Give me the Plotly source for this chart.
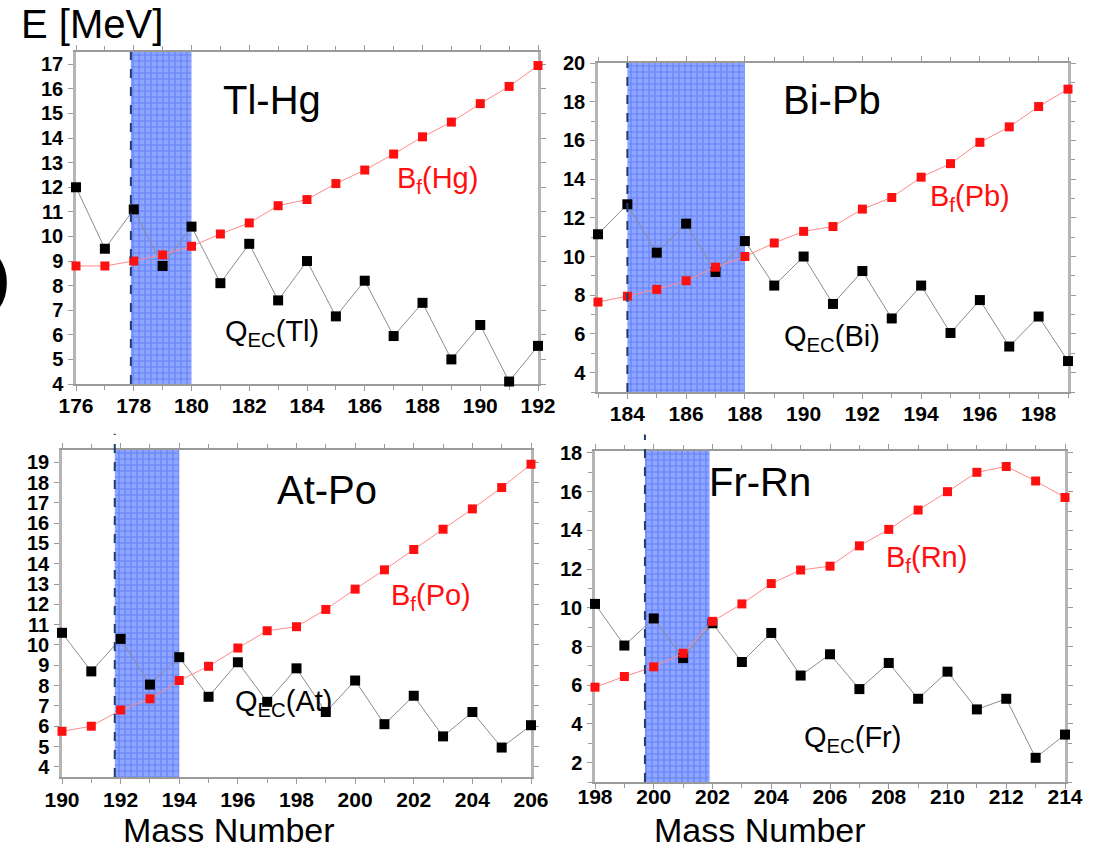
import plotly.graph_objects as go

W, H = 1094, 851

# ---------------- data ----------------
mass_tl = list(range(176, 193))
qec_tl = [12.0, 9.5, 11.1, 8.8, 10.4, 8.1, 9.7, 7.4, 9.0, 6.75, 8.2, 5.95, 7.3, 5.0, 6.4, 4.1, 5.55]
bf_hg = [8.8, 8.8, 9.0, 9.25, 9.6, 10.1, 10.55, 11.25, 11.5, 12.15, 12.7, 13.35, 14.05, 14.65, 15.4, 16.1, 16.95]

mass_bi = list(range(183, 200))
qec_bi = [11.15, 12.7, 10.2, 11.7, 9.2, 10.8, 8.5, 10.0, 7.55, 9.25, 6.8, 8.5, 6.05, 7.75, 5.35, 6.9, 4.6]
bf_pb = [7.65, 7.95, 8.3, 8.75, 9.45, 10.0, 10.7, 11.3, 11.55, 12.45, 13.05, 14.1, 14.8, 15.9, 16.7, 17.75, 18.65]

mass_at = list(range(190, 207))
qec_at = [10.6, 8.7, 10.3, 8.05, 9.4, 7.45, 9.15, 7.2, 8.85, 6.7, 8.25, 6.1, 7.5, 5.5, 6.7, 4.95, 6.05]
bf_po = [5.75, 6.0, 6.8, 7.35, 8.25, 8.95, 9.85, 10.7, 10.9, 11.75, 12.75, 13.7, 14.7, 15.7, 16.7, 17.75, 18.9]

mass_fr = list(range(198, 215))
qec_fr = [10.2, 8.05, 9.45, 7.4, 9.2, 7.2, 8.7, 6.5, 7.6, 5.8, 7.15, 5.3, 6.7, 4.75, 5.3, 2.25, 3.45]
bf_rn = [5.9, 6.45, 6.95, 7.65, 9.3, 10.2, 11.25, 11.95, 12.15, 13.2, 14.05, 15.05, 16.0, 17.0, 17.3, 16.55, 15.7]

panel_names = ["Tl-Hg", "Bi-Pb", "At-Po", "Fr-Rn"]
qec_labels = ["Q<sub>EC</sub>(Tl)", "Q<sub>EC</sub>(Bi)", "Q<sub>EC</sub>(At)", "Q<sub>EC</sub>(Fr)"]
bf_labels = ["B<sub>f</sub>(Hg)", "B<sub>f</sub>(Pb)", "B<sub>f</sub>(Po)", "B<sub>f</sub>(Rn)"]
band_ranges = [(177.9, 180.0), (184.0, 188.0), (191.8, 194.0), (199.7, 201.9)]
x_ranges = [(176, 192), (183, 199), (190, 206), (198, 214)]
y_ranges = [(4, 17.5), (3, 20), (3.5, 19.6), (1, 18.1)]
y_tick0 = [4, 4, 4, 2]
y_dticks = [1, 2, 1, 2]

series = [
    (mass_tl, qec_tl, bf_hg),
    (mass_bi, qec_bi, bf_pb),
    (mass_at, qec_at, bf_po),
    (mass_fr, qec_fr, bf_rn),
]

# ---------------- layout geometry (pixels) ----------------
px_boxes = [  # (left, right, top, bottom)
    (76, 538, 52, 384),
    (598, 1068, 63, 392),
    (62, 531, 450, 777),
    (595, 1065, 451, 782),
]
x_label_standoff = [-3, -3, -2, -10]


def fx(p):
    return p / W


def fy(p):
    return 1 - p / H


fig = go.Figure()
xtickfont = dict(family="Liberation Sans, Arial", size=21, color="black", weight="bold")
ytickfont = dict(family="Liberation Sans, Arial", size=20, color="black", weight="bold")
frame = "#9a9a9a"

layout_axes = {}
for i in range(4):
    xa = "x" if i == 0 else f"x{i+1}"
    ya = "y" if i == 0 else f"y{i+1}"
    xkey = "xaxis" if i == 0 else f"xaxis{i+1}"
    ykey = "yaxis" if i == 0 else f"yaxis{i+1}"
    l, r, t, b = px_boxes[i]
    x0, x1 = x_ranges[i]
    y0, y1 = y_ranges[i]
    layout_axes[xkey] = dict(
        domain=[fx(l), fx(r)], range=[x0, x1], anchor=ya, automargin=False,
        tick0=x0 + (x0 % 2), dtick=2, ticks="outside", ticklen=5, tickcolor=frame,
        minor=dict(dtick=1, ticks="outside", ticklen=4, tickcolor=frame),
        showline=True, linecolor=frame, linewidth=1.5, mirror="ticks",
        showgrid=False, zeroline=False, tickfont=xtickfont, layer="below traces",
        ticklabelstandoff=x_label_standoff[i],
    )
    ydict = dict(
        domain=[fy(b), fy(t)], range=[y0, y1], anchor=xa, automargin=False,
        tick0=y_tick0[i], dtick=y_dticks[i], ticks="outside", ticklen=5, tickcolor=frame,
        showline=True, linecolor="#b5b5b5", linewidth=2.5, mirror="ticks",
        showgrid=False, zeroline=False, tickfont=ytickfont, layer="below traces",
        ticklabelstandoff=1,
    )
    if y_dticks[i] == 2:
        ydict["minor"] = dict(dtick=1, ticks="outside", ticklen=4, tickcolor=frame)
    layout_axes[ykey] = ydict

    # highlighted band (hatched grid)
    bx0, bx1 = band_ranges[i]
    fig.add_trace(go.Scatter(
        x=[bx0, bx1, bx1, bx0, bx0], y=[y0, y0, y1, y1, y0],
        xaxis=xa, yaxis=ya, mode="none", fill="toself",
        fillcolor="#8fa7ff",
        fillpattern=dict(shape="+", bgcolor="#8ea6ff", fgcolor="#3a5cf2", size=6, solidity=0.35),
        hoverinfo="skip", showlegend=False,
    ))

    mass, qec, bf = series[i]
    fig.add_trace(go.Scatter(
        x=mass, y=qec, xaxis=xa, yaxis=ya, mode="lines+markers",
        line=dict(color="#8c8c8c", width=1),
        marker=dict(symbol="square", size=10, color="black"),
        showlegend=False, cliponaxis=False,
    ))
    fig.add_trace(go.Scatter(
        x=mass, y=bf, xaxis=xa, yaxis=ya, mode="lines+markers",
        line=dict(color="#ff8a8a", width=1),
        marker=dict(symbol="square", size=9, color="#ff1010"),
        showlegend=False, cliponaxis=False,
    ))

    # dashed line at the band's left edge
    fig.add_shape(type="line", xref=xa, yref=f"{ya} domain",
                  x0=bx0, x1=bx0, y0=0, y1=1.0 if i < 2 else 1.05,
                  line=dict(color="#1f3d6e", width=2, dash="dash"))

fig.update_layout(**layout_axes)

# ---------------- text ----------------
ann = []


def add_text(text, cx, cy, size, color="black", weight="normal", xanchor="center"):
    ann.append(dict(text=text, x=fx(cx), y=fy(cy), xref="paper", yref="paper",
                    showarrow=False, xanchor=xanchor, yanchor="middle",
                    font=dict(family="Liberation Sans, Arial", size=size, color=color, weight=weight)))


title_pos = [(272, 100), (832, 100), (327, 490), (760, 482)]
bf_pos = [(437, 180), (970, 198), (431, 597), (926, 559)]
qec_pos = [(272, 333), (832, 338), (283, 703), (852, 739)]
for i in range(4):
    add_text(panel_names[i], *title_pos[i], 40)
    add_text(bf_labels[i], *bf_pos[i], 29, color="#ff1010")
    add_text(qec_labels[i], *qec_pos[i], 29)

add_text("E [MeV]", 92, 24, 40)
add_text("Mass Number", 229, 830, 34)
add_text("Mass Number", 760, 830, 34)
add_text(")", 0, 277, 56, weight="bold")

fig.update_layout(
    annotations=ann,
    width=W, height=H, margin=dict(l=0, r=0, t=0, b=0, autoexpand=False),
    paper_bgcolor="white", plot_bgcolor="white",
    showlegend=False,
)

fig.write_html("out.html", config={"displayModeBar": False},
               post_script="document.body.style.margin='0px';")
